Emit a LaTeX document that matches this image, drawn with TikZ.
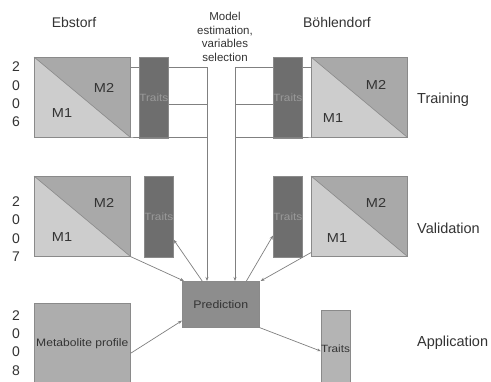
\documentclass[tikz,border=0pt]{standalone}
\usepackage{fontspec}
\setmainfont{Liberation Sans}
\newfontfamily\widefont[FakeStretch=1.12]{Liberation Sans}
\usetikzlibrary{arrows.meta,calc}

\definecolor{mone}{HTML}{CDCDCD}
\definecolor{mtwo}{HTML}{A9A9A9}
\definecolor{traitdark}{HTML}{6E6E6E}
\definecolor{traittext}{HTML}{9A9A9A}
\definecolor{predfill}{HTML}{8D8D8D}
\definecolor{metafill}{HTML}{ADADAD}
\definecolor{apptrait}{HTML}{B4B4B4}
\definecolor{edge}{HTML}{8A8A8A}
\definecolor{wire}{HTML}{808080}
\definecolor{ink}{HTML}{333333}

\begin{document}
\begin{tikzpicture}[x=1pt,y=-1pt,
  mbox/.style={draw=edge, fill=mone, line width=0.6pt, minimum width=96pt,
    minimum height=80pt, inner sep=0pt, anchor=north west},
  traitbox/.style={draw=edge, fill=traitdark, line width=0.6pt, minimum width=29pt,
    minimum height=81pt, inner sep=0pt, anchor=north west, text=traittext,
    font=\widefont\fontsize{10.5}{12}\selectfont},
  mlabel/.style={text=ink, font=\widefont\fontsize{13}{15}\selectfont, inner sep=0pt},
  headlabel/.style={text=ink, font=\fontsize{14}{16}\selectfont, inner sep=0pt},
  rowlabel/.style={text=ink, font=\fontsize{14.5}{16}\selectfont, inner sep=0pt, anchor=west},
  yearlabel/.style={text=ink, font=\fontsize{14}{18.3}\selectfont, align=center, inner sep=0pt},
  wireline/.style={draw=wire, line width=0.7pt},
  arrowline/.style={draw=wire, line width=0.7pt, -{Stealth[length=4pt,width=3pt]}}
]
\useasboundingbox[fill=white] (0,0) rectangle (491,381);

% column headings
\node[headlabel] (hEb) at (74,22) {Ebstorf};
\node[headlabel] (hBo) at (337,22) {Böhlendorf};
\node[text=ink, font=\fontsize{11.5}{13.5}\selectfont, align=center, inner sep=0pt]
  (hModel) at (225,37) {Model\\estimation,\\variables\\selection};

% years
\node[yearlabel] (y6) at (16,94.5) {2\\0\\0\\6};
\node[yearlabel] (y7) at (16,229) {2\\0\\0\\7};
\node[yearlabel] (y8) at (16,343) {2\\0\\0\\8};

% phase labels
\node[rowlabel] (lTrain) at (417,100) {Training};
\node[rowlabel] (lVal) at (417,228) {Validation};
\node[rowlabel] (lApp) at (417,343) {Application};

% metabolite boxes split into M1 / M2
\foreach \nm/\px/\py in {eM1/34/57, bM1/311/57, eM2/34/176, bM2/311/176}{
  \node[mbox] (\nm) at (\px,\py) {};
  \fill[mtwo] (\nm.north west) -- (\nm.north east) -- (\nm.south east) -- cycle;
  \draw[edge, line width=0.6pt] (\nm.north west) rectangle (\nm.south east);
  \draw[edge, line width=0.6pt] (\nm.north west) -- (\nm.south east);
}
\node[mlabel] at ($(eM1.north west)+(70,31)$) {M2};
\node[mlabel] at ($(eM1.north west)+(28,56)$) {M1};
\node[mlabel] at ($(bM1.north west)+(65,28)$) {M2};
\node[mlabel] at ($(bM1.north west)+(22,61)$) {M1};
\node[mlabel] at ($(eM2.north west)+(70,27)$) {M2};
\node[mlabel] at ($(eM2.north west)+(28,61)$) {M1};
\node[mlabel] at ($(bM2.north west)+(65,27)$) {M2};
\node[mlabel] at ($(bM2.north west)+(26,62)$) {M1};

% trait boxes
\node[traitbox] (eT1) at (139,57) {Traits};
\node[traitbox] (bT1) at (273,57) {Traits};
\node[traitbox] (eT2) at (144,176) {Traits};
\node[traitbox] (bT2) at (273,176) {Traits};

% prediction and application
\node[draw=edge, fill=predfill, line width=0.6pt, minimum width=77pt, minimum height=46pt,
  inner sep=0pt, anchor=north west, text=ink, font=\widefont\fontsize{11}{13}\selectfont]
  (pred) at (182,281) {Prediction};
\node[draw=edge, fill=metafill, line width=0.6pt, minimum width=96pt, minimum height=80pt,
  inner sep=0pt, anchor=north west, text=ink, font=\widefont\fontsize{10.8}{13}\selectfont]
  (meta) at (34,303) {Metabolite profile};
\node[draw=edge, fill=apptrait, line width=0.6pt, minimum width=29pt, minimum height=73pt,
  inner sep=0pt, anchor=north west]
  (aT) at (321,310) {};
\node[text=ink, font=\widefont\fontsize{10.5}{12}\selectfont, inner sep=0pt] (aTlab) at (335.5,349) {Traits};

% training collectors
\coordinate (eTrunk) at (207,67);
\coordinate (eMid) at (207,104);
\coordinate (eBot) at (207,137.5);
\coordinate (bTrunk) at (235,67);
\coordinate (bMid) at (235,104);
\coordinate (bBot) at (235,137.5);

\draw[wireline] (eM1.east |- eTrunk) -- (eT1.west |- eTrunk);
\draw[wireline] (eT1.east |- eTrunk) -- (eTrunk);
\draw[wireline] (eT1.east |- eMid) -- (eMid);
\draw[wireline] (eM1.south east) -- (eBot);
\draw[arrowline] (eTrunk) -- (eTrunk |- pred.north);

\draw[wireline] (bM1.west |- bTrunk) -- (bT1.east |- bTrunk);
\draw[wireline] (bT1.west |- bTrunk) -- (bTrunk);
\draw[wireline] (bT1.west |- bMid) -- (bMid);
\draw[wireline] (bM1.south west) -- (bBot);
\draw[arrowline] (bTrunk) -- (bTrunk |- pred.north);

% validation links
\draw[arrowline] (eM2.south east) -- ($(pred.north west)+(2,0)$);
\draw[arrowline] ($(pred.north west)!0.26!(pred.north east)$) -- ($(eT2.north east)!0.78!(eT2.south east)$);
\draw[arrowline] ($(bM2.north west)!0.95!(bM2.south west)$) -- ($(pred.north east)+(1,0)$);
\draw[arrowline] ($(pred.north west)!0.83!(pred.north east)$) -- ($(bT2.north west)!0.73!(bT2.south west)$);

% application links
\draw[arrowline] ([yshift=-10pt]meta.east) -- ($(pred.north west)!0.85!(pred.south west)$);
\draw[arrowline] (pred.south east) -- ($(aT.north west)!0.56!(aT.south west)$);
\end{tikzpicture}
\end{document}
